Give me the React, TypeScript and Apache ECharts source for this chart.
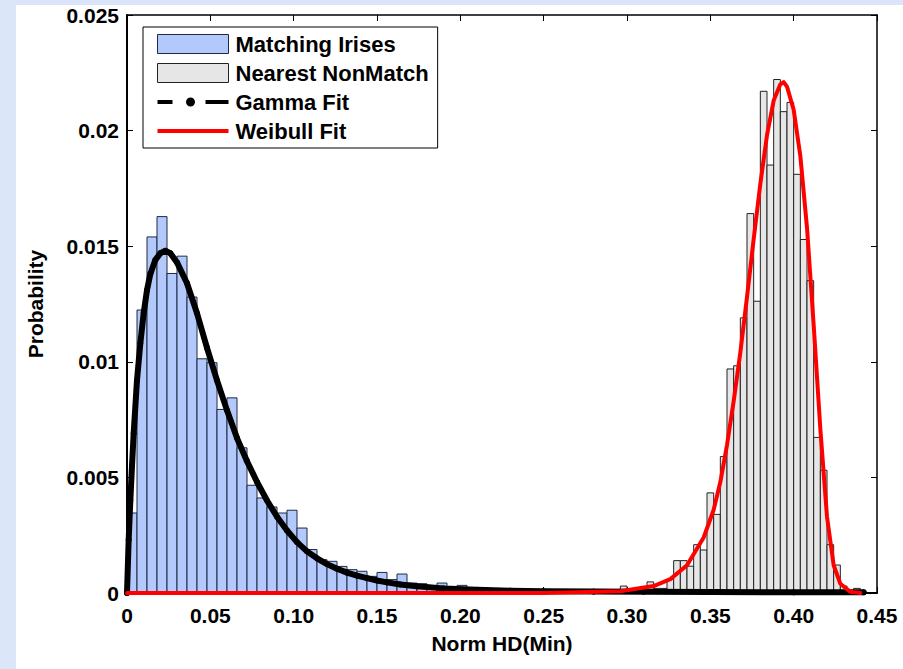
import React, { useEffect, useRef } from "react";
import * as echarts from "echarts";

// ---- data ----
const BLUE_BIN_START = 0;
const BLUE_BIN_WIDTH = 0.006;
const blueValues = [
  0.00346, 0.01224, 0.0154, 0.01628, 0.01382, 0.01457, 0.0128, 0.01013, 0.00996, 0.00794,
  0.00844, 0.00628, 0.00466, 0.00411, 0.00372, 0.00346, 0.00358, 0.00281, 0.00188, 0.00144,
  0.00137, 0.00115, 0.00101, 0.00094, 0.00072, 0.00089, 0.00058, 0.00082, 0.00043, 0.0004,
  0.0003, 0.00043, 0.0002, 0.00033, 0.0001, 0.0001, 0.00005, 0.00005, 0.00003, 0.00003,
  0.00003, 0.0001,
];

const GREY_BIN_START = 0.26;
const GREY_BIN_WIDTH = 0.004;
const greyValues = [
  0.00002, 0.00002, 0.00002, 0.00002, 0.00002, 0.00002, 0.00002, 0.00002, 0.00002,
  0.0003, 0.00005, 0.0001, 0.0001, 0.00048, 0.0002, 0.0002, 0.00059, 0.0014, 0.0014,
  0.00116, 0.00209, 0.00186, 0.00433, 0.0034, 0.0059, 0.00969, 0.00983, 0.0119, 0.01641,
  0.01262, 0.0217, 0.01851, 0.02221, 0.02082, 0.02122, 0.01811, 0.01529, 0.01351, 0.00673,
  0.00531, 0.00209, 0.00121, 0.0003, 0.0001, 0.0002,
];

const gammaX = [
  0, 0.001, 0.002, 0.003, 0.004, 0.006, 0.008, 0.01, 0.012, 0.014, 0.017, 0.02, 0.023, 0.026,
  0.03, 0.036, 0.042, 0.048, 0.054, 0.06, 0.066, 0.072, 0.078, 0.084, 0.09, 0.096, 0.102,
  0.108, 0.114, 0.12, 0.126, 0.132, 0.138, 0.144, 0.15, 0.156, 0.164, 0.174, 0.19, 0.21, 0.23,
  0.25, 0.28, 0.31, 0.35, 0.4, 0.442,
];
const gammaY = [
  0, 0.0023, 0.004, 0.0055, 0.0069, 0.0092, 0.0108, 0.0121, 0.0131, 0.0138, 0.0144, 0.0147,
  0.0148, 0.0147, 0.0143, 0.0134, 0.0121, 0.0106, 0.0092, 0.0079, 0.0067, 0.0057, 0.0048,
  0.004, 0.0033, 0.0027, 0.0022, 0.0018, 0.0015, 0.00125, 0.00105, 0.00088, 0.00075, 0.00064,
  0.00054, 0.00046, 0.00037, 0.00029, 0.0002, 0.00014, 0.0001, 0.00008, 0.00006, 0.00005,
  0.00004, 0.00003, 0.00003,
];

const weibullX = [
  0, 0.25, 0.296, 0.316, 0.326, 0.336, 0.346, 0.352, 0.356, 0.36, 0.364, 0.368, 0.372, 0.376,
  0.38, 0.384, 0.388, 0.392, 0.394, 0.396, 0.4, 0.404, 0.408, 0.412, 0.416, 0.42, 0.424, 0.428,
  0.434, 0.44,
];
const weibullY = [
  0, 0, 0.00008, 0.0003, 0.0006, 0.0012, 0.0024, 0.0036, 0.0048, 0.0064, 0.0083, 0.0104,
  0.0128, 0.0153, 0.0177, 0.0198, 0.0213, 0.022, 0.0221, 0.0219, 0.0209, 0.0189, 0.0158,
  0.0116, 0.0071, 0.0033, 0.0012, 0.0004, 0.00005, 0,
];

const xTicks = { min: 0, max: 0.45, interval: 0.05 };
const yTicks = { min: 0, max: 0.025, interval: 0.005 };

const SERIES_NAMES = ["Matching Irises", "Nearest NonMatch", "Gamma Fit", "Weibull Fit"];

const FONT = "'Liberation Sans', Arial, Helvetica, sans-serif";

function binData(start: number, width: number, values: number[]) {
  return values.map((v, i) => [start + i * width, start + (i + 1) * width, v]);
}

function histSeries(name: string, data: number[][], fill: string, stroke: string) {
  return {
    name,
    type: "custom",
    clip: true,
    itemStyle: { color: fill, borderColor: stroke, borderWidth: 1 },
    encode: { x: [0, 1], y: 2 },
    data,
    renderItem: (_params: any, api: any) => {
      const p0 = api.coord([api.value(0), api.value(2)]);
      const p1 = api.coord([api.value(1), 0]);
      return {
        type: "rect",
        shape: { x: p0[0], y: p0[1], width: p1[0] - p0[0], height: p1[1] - p0[1] },
        style: { fill, stroke, lineWidth: 1 },
      };
    },
  };
}

export default function App() {
  const ref = useRef<HTMLDivElement>(null);
  useEffect(() => {
    if (!ref.current) return;
    const chart = echarts.init(ref.current, undefined, { renderer: "svg" });
    const labelStyle = { fontFamily: FONT, fontWeight: "bold" as const, fontSize: 21, color: "#000" };
    const gammaIcon =
      "path://M0,7.5H15V11.5H0Z M28.5,9.5A4.5,4.5 0 1,0 37.5,9.5A4.5,4.5 0 1,0 28.5,9.5Z M48,7.5H71V11.5H48Z";
    const weibullIcon = "path://M0,7.5H71V11.5H0Z";
    chart.setOption({
      animation: false,
      backgroundColor: "#ffffff",
      graphic: [
        { type: "rect", left: 0, top: 0, shape: { width: 903, height: 5 }, style: { fill: "#dbe5f9" }, z: -10 },
        { type: "rect", left: 0, top: 0, shape: { width: 16, height: 669 }, style: { fill: "#dce6f9" }, z: -10 },
      ],
      grid: { left: 127, right: 26, top: 15, bottom: 76, containLabel: false },
      legend: {
        orient: "vertical",
        left: 143,
        top: 27,
        padding: [6, 9, 6, 14],
        itemWidth: 71,
        itemHeight: 19,
        itemGap: 7,
        backgroundColor: "#ffffff",
        borderColor: "#000",
        borderWidth: 1,
        borderRadius: 0,
        selectedMode: false,
        textStyle: { ...labelStyle, fontSize: 22, lineHeight: 20, padding: [0, 0, 0, 2] },
        data: [
          { name: SERIES_NAMES[0], icon: "rect", itemStyle: { color: "#b3c8fb", borderColor: "#1e2a44", borderWidth: 1 } },
          { name: SERIES_NAMES[1], icon: "rect", itemStyle: { color: "#e6e6e6", borderColor: "#222", borderWidth: 1 } },
          { name: SERIES_NAMES[2], icon: gammaIcon, itemStyle: { color: "#000", borderWidth: 0 } },
          { name: SERIES_NAMES[3], icon: weibullIcon, itemStyle: { color: "#ff0000", borderWidth: 0 } },
        ],
      },
      xAxis: [
        {
          type: "value",
          position: "bottom",
          ...xTicks,
          name: "Norm HD(Min)",
          nameLocation: "middle",
          nameGap: 40,
          nameTextStyle: { ...labelStyle, fontSize: 21 },
          axisLine: { show: true, onZero: false, lineStyle: { color: "#000", width: 2 } },
          axisTick: { show: true, inside: true, length: 6, lineStyle: { color: "#000", width: 1 } },
          axisLabel: {
            ...labelStyle,
            margin: 12,
            formatter: (v: number) => (v === 0 ? "0" : v.toFixed(2)),
          },
          splitLine: { show: false },
        },
        {
          type: "value",
          position: "top",
          ...xTicks,
          axisLine: { show: true, onZero: false, lineStyle: { color: "#000", width: 1.5 } },
          axisTick: { show: true, inside: true, length: 6, lineStyle: { color: "#000", width: 1 } },
          axisLabel: { show: false },
          splitLine: { show: false },
        },
      ],
      yAxis: [
        {
          type: "value",
          position: "left",
          ...yTicks,
          name: "Probability",
          nameLocation: "middle",
          nameRotate: 90,
          nameGap: 81,
          nameTextStyle: { ...labelStyle, fontSize: 21 },
          axisLine: { show: true, onZero: false, lineStyle: { color: "#000", width: 2 } },
          axisTick: { show: true, inside: true, length: 6, lineStyle: { color: "#000", width: 1 } },
          axisLabel: { ...labelStyle, margin: 8 },
          splitLine: { show: false },
        },
        {
          type: "value",
          position: "right",
          ...yTicks,
          axisLine: { show: true, onZero: false, lineStyle: { color: "#000", width: 1.5 } },
          axisTick: { show: true, inside: true, length: 6, lineStyle: { color: "#000", width: 1 } },
          axisLabel: { show: false },
          splitLine: { show: false },
        },
      ],
      series: [
        histSeries(SERIES_NAMES[0], binData(BLUE_BIN_START, BLUE_BIN_WIDTH, blueValues), "#b3c8fb", "#1e2a44"),
        histSeries(SERIES_NAMES[1], binData(GREY_BIN_START, GREY_BIN_WIDTH, greyValues), "#e6e6e6", "#222222"),
        {
          name: SERIES_NAMES[2],
          type: "line",
          data: gammaX.map((x, i) => [x, gammaY[i]]),
          smooth: false,
          symbol: "circle",
          symbolSize: 6,
          showSymbol: true,
          itemStyle: { color: "#000" },
          lineStyle: { color: "#000", width: 6, cap: "round", join: "round" },
          z: 3,
        },
        {
          name: SERIES_NAMES[3],
          type: "line",
          data: weibullX.map((x, i) => [x, weibullY[i]]),
          smooth: false,
          symbol: "none",
          itemStyle: { color: "#ff0000" },
          lineStyle: { color: "#ff0000", width: 4, cap: "round", join: "round" },
          z: 4,
        },
      ],
    });
    return () => chart.dispose();
  }, []);
  return (
    <div
      ref={ref}
      style={{ position: "fixed", left: 0, top: 0, width: 903, height: 669, background: "#fff" }}
    />
  );
}
